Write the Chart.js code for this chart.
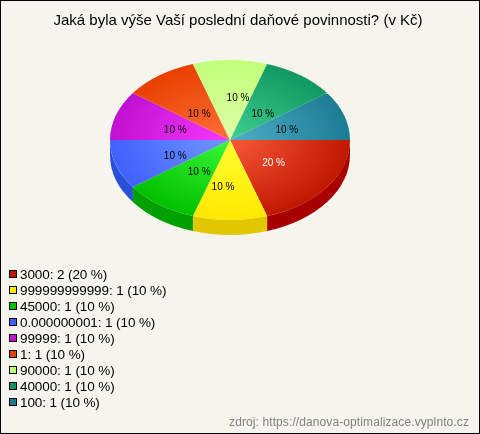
<!DOCTYPE html>
<html>
<head>
<meta charset="utf-8">
<style>
	html, body { margin: 0; padding: 0; background: #f5f5ed; }
	canvas { display: block; }
</style>
<script src="https://cdn.jsdelivr.net/npm/chart.js@4"></script>
</head>
<body>
<canvas id="taxChart" width="480" height="434"></canvas>
<script>
const chartTitle = "Jaká byla výše Vaší poslední daňové povinnosti? (v Kč)";
const sourceText = "zdroj: https://danova-optimalizace.vyplnto.cz";
const categories = ["3000", "999999999999", "45000", "0.000000001", "99999", "1", "90000", "40000", "100"];
const counts = [2, 1, 1, 1, 1, 1, 1, 1, 1];

const innerColors = ["#f85838", "#ffff30", "#38f838", "#7098ff", "#f838ff", "#ff7038", "#e0ffa8", "#40d090", "#50b0c8"];
const outerColors = ["#c01800", "#ffe800", "#00c000", "#4060ff", "#c010d0", "#e84000", "#c0ff78", "#109860", "#1c7c94"];
const sideColors = ["#a80000", "#e0c800", "#00a000", "#2850d8"];
const swatchColors = outerColors;
const labelColors = ["#ffffff", "#000000", "#000000", "#000000", "#000000", "#000000", "#000000", "#000000", "#000000"];
const labelNudges = [[-3, 1], [-7, 9], [3, 1], [0, 4], [0, 2], [3, 5], [8, -3], [-1, 5], [2, 2]];

const FONT = '"Liberation Sans", Arial, sans-serif';
const BG = "#f5f5ed";
const SQUASH = 2 / 3;
const DEPTH = 15;

const total = counts.reduce((a, b) => a + b, 0);
const pct = v => Math.round(v / total * 100);

function sliceGradient(ctx) {
	const area = ctx.chart.chartArea;
	if (!area) return outerColors[ctx.dataIndex];
	const x = (area.left + area.right) / 2;
	const y = (area.top + area.bottom) / 2;
	const g = ctx.chart.ctx.createRadialGradient(x, y, 0, x, y, area.width / 2);
	g.addColorStop(0, innerColors[ctx.dataIndex]);
	g.addColorStop(1, outerColors[ctx.dataIndex]);
	return g;
}

const pie3d = {
	id: "pie3d",
	beforeDraw(chart) {
		const c = chart.ctx;
		c.save();
		c.fillStyle = BG;
		c.fillRect(0, 0, chart.width, chart.height);
		c.restore();
	},
	beforeDatasetsDraw(chart) {
		const c = chart.ctx;
		const arcs = chart.getDatasetMeta(0).data;
		c.save();
		// side wall of the front half
		arcs.forEach((arc, i) => {
			if (arc.startAngle >= Math.PI - 0.001) return;
			const rx = arc.outerRadius, ry = rx * SQUASH;
			const a0 = arc.startAngle, a1 = Math.min(arc.endAngle, Math.PI);
			const cy = arc.y;
			c.beginPath();
			c.ellipse(arc.x, cy, rx, ry, 0, a0, a1);
			c.ellipse(arc.x, cy + DEPTH, rx, ry, 0, a1, a0, true);
			c.closePath();
			c.fillStyle = sideColors[i];
			c.fill();
		});
		c.restore();
		// squash the flat pie into an ellipse
		const cy = arcs[0].y;
		c.save();
		c.translate(0, cy);
		c.scale(1, SQUASH);
		c.translate(0, -cy);
	},
	afterDatasetsDraw(chart) {
		const c = chart.ctx;
		c.restore();
		const arcs = chart.getDatasetMeta(0).data;
		c.save();
		c.font = "10px " + FONT;
		c.textAlign = "center";
		c.textBaseline = "middle";
		arcs.forEach((arc, i) => {
			const mid = (arc.startAngle + arc.endAngle) / 2;
			const r = arc.outerRadius * 0.48;
			const x = arc.x + Math.cos(mid) * r + labelNudges[i][0];
			const y = arc.y + Math.sin(mid) * r * SQUASH + labelNudges[i][1];
			c.fillStyle = labelColors[i];
			c.fillText(pct(counts[i]) + " %", x, y);
		});
		c.restore();
	},
	afterDraw(chart) {
		const c = chart.ctx;
		c.save();
		c.textBaseline = "alphabetic";
		// title
		c.fillStyle = "#000000";
		c.font = "15px " + FONT;
		c.textAlign = "center";
		c.fillText(chartTitle, 238, 25);
		// legend
		c.font = "13.5px " + FONT;
		c.letterSpacing = "-0.1px";
		c.textAlign = "left";
		categories.forEach((cat, i) => {
			const y = 274 + i * 16;
			c.fillStyle = swatchColors[i];
			c.fillRect(9, y - 4, 8, 8);
			c.strokeStyle = "#000000";
			c.lineWidth = 1;
			c.strokeRect(9.5, y - 3.5, 7, 7);
			c.fillStyle = "#000000";
			c.fillText(cat + ": " + counts[i] + " (" + pct(counts[i]) + " %)", 20, y + 5);
		});
		// source
		c.fillStyle = "#808080";
		c.font = "12px " + FONT;
		c.letterSpacing = "0.1px";
		c.textAlign = "right";
		c.fillText(sourceText, 469, 426);
		c.letterSpacing = "0px";
		// frame
		c.strokeStyle = "#000000";
		c.lineWidth = 1;
		c.strokeRect(0.5, 0.5, chart.width - 1, chart.height - 1);
		c.restore();
	}
};

new Chart(document.getElementById("taxChart"), {
	type: "pie",
	data: {
		labels: categories,
		datasets: [{
			data: counts,
			backgroundColor: sliceGradient,
			borderWidth: 0
		}]
	},
	options: {
		responsive: false,
		animation: false,
		rotation: 90,
		layout: { padding: { left: 110, right: 130, top: 20, bottom: 174 } },
		plugins: {
			legend: { display: false },
			title: { display: false },
			tooltip: { enabled: false }
		}
	},
	plugins: [pie3d]
});
</script>
</body>
</html>
